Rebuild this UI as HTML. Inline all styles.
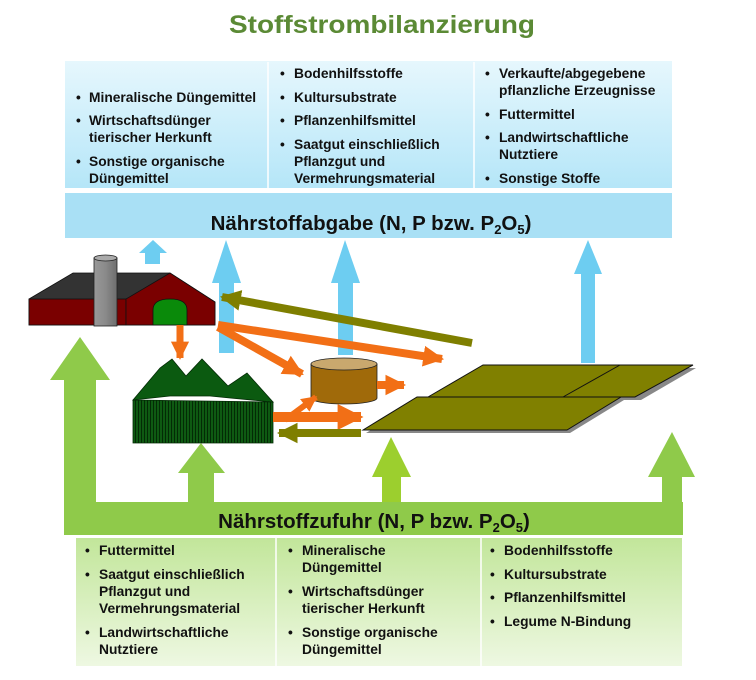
<!DOCTYPE html>
<html><head><meta charset="utf-8"><style>
html,body{margin:0;padding:0;background:#fff;}
svg{display:block;}
text{font-family:"Liberation Sans",Arial,sans-serif;font-weight:bold;}
.t{font-size:13.8px;fill:#111;}
</style></head><body>
<svg width="756" height="680" viewBox="0 0 756 680" xmlns="http://www.w3.org/2000/svg">
<defs>
<linearGradient id="gb" x1="0" y1="0" x2="0" y2="1"><stop offset="0" stop-color="#e6f7fd"/><stop offset="1" stop-color="#b5e6f8"/></linearGradient>
<linearGradient id="gg" x1="0" y1="0" x2="0" y2="1"><stop offset="0" stop-color="#c2e69a"/><stop offset="1" stop-color="#eef8e2"/></linearGradient>
<linearGradient id="ch" x1="0" y1="0" x2="1" y2="0"><stop offset="0" stop-color="#999"/><stop offset="0.5" stop-color="#8a8a8a"/><stop offset="1" stop-color="#6e6e6e"/></linearGradient>
<pattern id="st" width="3" height="10" patternUnits="userSpaceOnUse"><rect width="3" height="10" fill="#0e5a12"/><rect width="1" height="10" fill="#032b05"/></pattern>
<marker id="mo" viewBox="0 0 10 10" refX="9" refY="5" markerWidth="2.6" markerHeight="3" orient="auto"><path d="M0,0 L10,5 L0,10 Z" fill="#f26f16"/></marker>
<marker id="ml" viewBox="0 0 10 10" refX="9" refY="5" markerWidth="2.6" markerHeight="3" orient="auto"><path d="M0,0 L10,5 L0,10 Z" fill="#7f7f00"/></marker>
</defs>

<text x="382" y="33" text-anchor="middle" font-size="25" fill="#5b8a35" textLength="306" lengthAdjust="spacingAndGlyphs">Stoffstrombilanzierung</text>

<!-- top box -->
<rect x="65" y="61" width="607" height="127" fill="url(#gb)"/>
<line x1="268" y1="62" x2="268" y2="188" stroke="#fff" stroke-width="1.5"/>
<line x1="474" y1="62" x2="474" y2="188" stroke="#fff" stroke-width="1.5"/>
<rect x="65" y="193" width="607" height="45" fill="#a9e0f5"/>
<text x="371" y="230" text-anchor="middle" font-size="20.5" fill="#111">Nährstoffabgabe (N, P bzw. P<tspan font-size="13" dy="4">2</tspan><tspan dy="-4">O</tspan><tspan font-size="13" dy="4">5</tspan><tspan dy="-4">)</tspan></text>

<g>
<text class="t" x="76" y="102">•</text><text class="t" x="89" y="102">Mineralische Düngemittel</text>
<text class="t" x="76" y="125">•</text><text class="t" x="89" y="125">Wirtschaftsdünger</text><text class="t" x="89" y="142">tierischer Herkunft</text>
<text class="t" x="76" y="166">•</text><text class="t" x="89" y="166">Sonstige organische</text><text class="t" x="89" y="183">Düngemittel</text>

<text class="t" x="280" y="78">•</text><text class="t" x="294" y="78">Bodenhilfsstoffe</text>
<text class="t" x="280" y="102">•</text><text class="t" x="294" y="102">Kultursubstrate</text>
<text class="t" x="280" y="125">•</text><text class="t" x="294" y="125">Pflanzenhilfsmittel</text>
<text class="t" x="280" y="149">•</text><text class="t" x="294" y="149">Saatgut einschließlich</text><text class="t" x="294" y="166">Pflanzgut und</text><text class="t" x="294" y="183">Vermehrungsmaterial</text>

<text class="t" x="485" y="78">•</text><text class="t" x="499" y="78">Verkaufte/abgegebene</text><text class="t" x="499" y="95">pflanzliche Erzeugnisse</text>
<text class="t" x="485" y="119">•</text><text class="t" x="499" y="119">Futtermittel</text>
<text class="t" x="485" y="142">•</text><text class="t" x="499" y="142">Landwirtschaftliche</text><text class="t" x="499" y="159">Nutztiere</text>
<text class="t" x="485" y="183">•</text><text class="t" x="499" y="183">Sonstige Stoffe</text>
</g>

<!-- blue arrows -->
<g fill="#6dcdf1">
<polygon points="153,240 167,253 160,253 160,264 145,264 145,253 139,253"/>
<polygon points="226,240 241,283 234,283 234,353 219,353 219,283 212,283"/>
<polygon points="345,240 360,283 353,283 353,355 338,355 338,283 331,283"/>
<polygon points="588,240 602,274 595,274 595,363 581,363 581,274 574,274"/>
</g>

<!-- green structure -->
<g fill="#8fca4a">
<polygon points="80,337 110,380 96,380 96,502 683,502 683,535 64,535 64,380 50,380"/>
<polygon points="201,443 225,473 214,473 214,502 188,502 188,473 178,473"/>
<polygon points="672,432 695,477 682,477 682,502 662,502 662,477 648,477"/>
</g>
<polygon points="391,437 411,477 401,477 401,502 382,502 382,477 372,477" fill="#9ccf2e"/>
<text x="374" y="528" text-anchor="middle" font-size="20.5" fill="#111">Nährstoffzufuhr (N, P bzw. P<tspan font-size="13" dy="4">2</tspan><tspan dy="-4">O</tspan><tspan font-size="13" dy="4">5</tspan><tspan dy="-4">)</tspan></text>

<!-- bottom box -->
<rect x="76" y="538" width="606" height="128" fill="url(#gg)"/>
<line x1="276" y1="538" x2="276" y2="666" stroke="#fff" stroke-width="1.5"/>
<line x1="481" y1="538" x2="481" y2="666" stroke="#fff" stroke-width="1.5"/>
<g>
<text class="t" x="85" y="555">•</text><text class="t" x="99" y="555">Futtermittel</text>
<text class="t" x="85" y="579">•</text><text class="t" x="99" y="579">Saatgut einschließlich</text><text class="t" x="99" y="596">Pflanzgut und</text><text class="t" x="99" y="613">Vermehrungsmaterial</text>
<text class="t" x="85" y="637">•</text><text class="t" x="99" y="637">Landwirtschaftliche</text><text class="t" x="99" y="654">Nutztiere</text>

<text class="t" x="288" y="555">•</text><text class="t" x="302" y="555">Mineralische</text><text class="t" x="302" y="572">Düngemittel</text>
<text class="t" x="288" y="596">•</text><text class="t" x="302" y="596">Wirtschaftsdünger</text><text class="t" x="302" y="613">tierischer Herkunft</text>
<text class="t" x="288" y="637">•</text><text class="t" x="302" y="637">Sonstige organische</text><text class="t" x="302" y="654">Düngemittel</text>

<text class="t" x="490" y="555">•</text><text class="t" x="504" y="555">Bodenhilfsstoffe</text>
<text class="t" x="490" y="579">•</text><text class="t" x="504" y="579">Kultursubstrate</text>
<text class="t" x="490" y="602">•</text><text class="t" x="504" y="602">Pflanzenhilfsmittel</text>
<text class="t" x="490" y="626">•</text><text class="t" x="504" y="626">Legume N-Bindung</text>
</g>

<!-- house -->
<polygon points="29,299 73,273 170,273 215,302 215,325 29,325" fill="#333" stroke="#111" stroke-width="0.8"/>
<rect x="29" y="299" width="97" height="26" fill="#7a0000" stroke="#111" stroke-width="0.8"/>
<polygon points="126,299 170,273 215,302 215,325 126,325" fill="#7a0000" stroke="#111" stroke-width="0.8"/>
<path d="M153,325 L153,310 Q153,299 170,299 Q187,299 187,310 L187,325 Z" fill="#0a8a0a" stroke="#111" stroke-width="0.8"/>
<rect x="94" y="258" width="23" height="68" fill="url(#ch)" stroke="#222" stroke-width="0.8"/>
<ellipse cx="105.5" cy="258" rx="11.5" ry="3" fill="#aaa" stroke="#222" stroke-width="0.8"/>

<!-- forest -->
<polygon points="133,400 133,443 273,443 273,402" fill="url(#st)" stroke="#032b05" stroke-width="0.8"/>
<polygon points="133,400 160,368 172,359 186,376 202,359 228,386 247,373 273,402 230,398 210,396 170,396" fill="#0b5a10" stroke="#032b05" stroke-width="0.8"/>

<!-- tank -->
<path d="M311,364 L311,398 A33,6 0 0 0 377,398 L377,364 Z" fill="#a06a0a" stroke="#222" stroke-width="0.8"/>
<ellipse cx="344" cy="364" rx="33" ry="6" fill="#c9a86e" stroke="#222" stroke-width="0.8"/>

<!-- fields -->
<polygon points="431,400 486,368 696,368 641,400" fill="#888"/>
<polygon points="428,397 483,365 693,365 635,397" fill="#808000" stroke="#111" stroke-width="1"/>
<line x1="620" y1="365" x2="563" y2="397" stroke="#111" stroke-width="1"/>
<polygon points="366,433 420,400 624,400 570,433" fill="#888"/>
<polygon points="363,430 417,397 621,397 567,430" fill="#808000" stroke="#111" stroke-width="1"/>

<!-- arrows -->
<g stroke-width="8" fill="none">
<line x1="180" y1="325" x2="180" y2="358" stroke="#f26f16" stroke-width="7" marker-end="url(#mo)"/>
<line x1="218" y1="325" x2="442" y2="359" stroke="#f26f16" marker-end="url(#mo)"/>
<line x1="218" y1="327" x2="302" y2="374" stroke="#f26f16" marker-end="url(#mo)"/>
<line x1="472" y1="343" x2="222" y2="297" stroke="#7f7f00" marker-end="url(#ml)"/>
<line x1="377" y1="385" x2="404" y2="385" stroke="#f26f16" marker-end="url(#mo)"/>
<line x1="273" y1="417" x2="361" y2="417" stroke="#f26f16" stroke-width="10" marker-end="url(#mo)"/>
<line x1="285" y1="420" x2="316" y2="397" stroke="#f26f16" stroke-width="6" marker-end="url(#mo)"/>
<line x1="361" y1="433" x2="279" y2="433" stroke="#7f7f00" marker-end="url(#ml)"/>
</g>
</svg>
</body></html>
